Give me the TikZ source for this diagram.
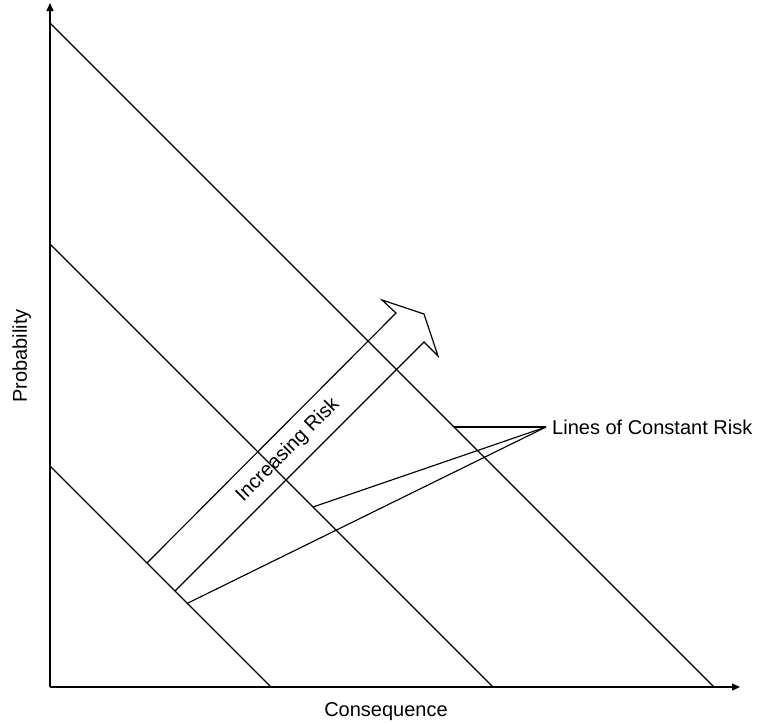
\documentclass[tikz,border=0pt]{standalone}
\usepackage{fontspec}
\setmainfont{Liberation Sans}
\usetikzlibrary{arrows.meta}
\begin{document}
\begin{tikzpicture}[x=1pt,y=-1pt,
  axis/.style={line width=1.3pt,-{Triangle[length=8pt,width=7pt]}},
  riskline/.style={line width=1.15pt},
  leader/.style={line width=1.15pt},
  label/.style={font=\fontsize{20}{23}\selectfont,inner sep=0pt}]
\useasboundingbox (0,0) rectangle (770,723);

% axes
\coordinate (O) at (50,687);
\coordinate (ytop) at (50,3);
\coordinate (xend) at (740,687);
\draw[axis] (O) -- (ytop);
\draw[axis] (O) -- (xend);

% iso-risk lines
\coordinate (l1a) at (50,466);  \coordinate (l1b) at (271,687);
\coordinate (l2a) at (50,244);  \coordinate (l2b) at (493,687);
\coordinate (l3a) at (50,23);   \coordinate (l3b) at (714,687);
\draw[riskline] (l1a) -- (l1b);
\draw[riskline] (l2a) -- (l2b);
\draw[riskline] (l3a) -- (l3b);

% hollow arrow pointing to higher risk (open at its base on the first line)
\coordinate (sL) at (147,563);
\coordinate (nL) at (396,313);
\coordinate (bL) at (382,300);
\coordinate (tip) at (424,314);
\coordinate (bR) at (438,356);
\coordinate (nR) at (424,342);
\coordinate (sR) at (175,591);
\draw[riskline,line join=miter] (sL) -- (nL) -- (bL) -- (tip) -- (bR) -- (nR) -- (sR);
\node[label,rotate=45] (inc) at (288,450) {Increasing Risk};

% labels
\node[label,anchor=base] (xlab) at (386,716) {Consequence};
\node[label,anchor=base,rotate=90] (ylab) at (27,356) {Probability};

% leaders to the lines of constant risk
\coordinate (K) at (546,427);
\node[label,anchor=west] (lcr) at (552,427) {Lines of Constant Risk};
\coordinate (p3) at (454,427);
\coordinate (p2) at (313,507);
\coordinate (p1) at (188,603);
\draw[leader] (K) -- (p3);
\draw[leader] (K) -- (p2);
\draw[leader] (K) -- (p1);
\end{tikzpicture}
\end{document}
